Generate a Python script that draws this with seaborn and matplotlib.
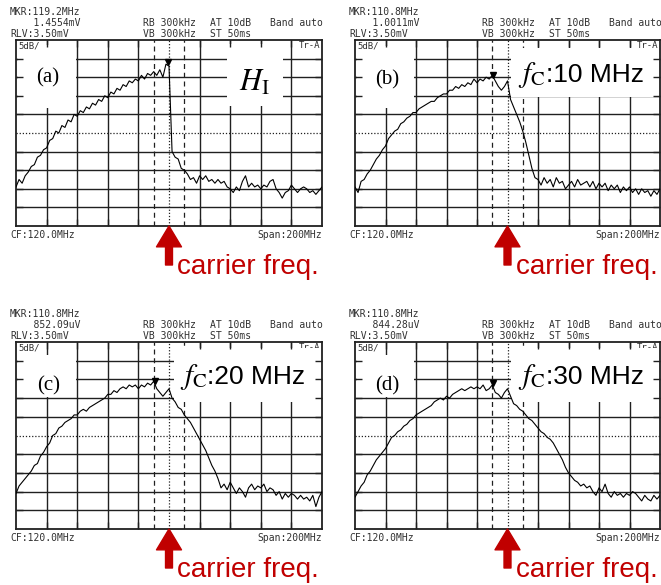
import numpy as np
import pandas as pd
import seaborn as sns
import matplotlib.pyplot as plt
from matplotlib.patches import Rectangle

# 周波数軸 (CF 120 MHz, span 200 MHz)
freq = np.arange(20, 221, 2)

# トレース (dB, 基準レベルからの相対値, 5dB/div)
trace_a = [-39.5, -37.5, -38.5, -36.5, -35.5, -34, -33.5, -31.5, -31, -29.5,
           -29, -27, -26.5, -24.5, -25, -23, -23.5, -21.5, -22, -20,
           -20.5, -19, -19.5, -18, -18.5, -17, -17.5, -16, -16.5, -15,
           -15.5, -14, -14.5, -13, -13.5, -12, -12.5, -11, -11.5, -10.5,
           -11, -9.5, -10.5, -9, -9.5, -8.5, -9.5, -8, -10, -6.5,
           -7, -30, -31.5, -32, -34.5, -35, -36, -37.5, -37, -38.5,
           -36.5, -37.5, -36.5, -38, -37.5, -38.5, -37.5, -38.5, -38, -39.5,
           -40, -41, -39.5, -40.5, -38, -36.5, -39.5, -38.5, -39.5, -39,
           -40, -39, -39.5, -38, -37.5, -40, -41, -42.5, -41, -40.5,
           -39, -40, -41, -40, -39.5, -40, -41, -40.5, -41.5, -40.5,
           -39.5]
trace_b = [-39.5, -41, -38, -37.5, -36, -35, -33.5, -32, -31, -29.5,
           -28.5, -26.5, -25.5, -24.5, -24, -22.5, -22, -21, -20.5, -19.5,
           -19.5, -18.5, -18, -17.5, -17, -16.5, -16.5, -15.5, -15, -14.5,
           -14.5, -13.5, -13.5, -12.5, -13, -12, -12.5, -11.5, -12, -10.5,
           -11.5, -10.5, -11, -10, -10.5, -9.5, -11, -12.5, -13.5, -12.5,
           -11, -16, -18, -20, -22, -24.5, -27.5, -31, -34.5, -37,
           -37.5, -39, -37, -38.5, -37.5, -39.5, -37, -38.5, -38, -40,
           -39, -38, -39.5, -37.5, -39, -38.5, -38, -39.5, -38, -40,
           -38.5, -39.5, -38.5, -40.5, -39, -40, -39, -41, -39.5, -40.5,
           -39.5, -41, -40, -41.5, -40, -41, -40.5, -42, -40.5, -41.5,
           -40]
trace_c = [-40.5, -38.5, -37.5, -36.5, -35.5, -34.5, -33, -32.5, -30.5, -29.5,
           -28, -27, -25, -24.5, -23, -22.5, -21.5, -21, -20.5, -19.5,
           -19.5, -18.5, -18, -18.5, -17.5, -17, -16.5, -16, -15.5, -15,
           -14, -14, -13, -13.5, -12.5, -12, -12.5, -11.5, -12, -11.5,
           -12.5, -11.5, -12, -11, -11.5, -10.5, -12.5, -13.5, -14.5, -13.5,
           -12.5, -15, -16, -17.5, -18, -19.5, -20.5, -21.5, -23, -24.5,
           -26, -27.5, -29, -31, -33, -34.5, -36.5, -39, -38, -39.5,
           -37.5, -39, -40.5, -39, -40, -41.5, -39, -38, -39.5, -38.5,
           -39, -38, -40, -39, -39.5, -41, -40, -42, -40.5, -41.5,
           -40.5, -41, -42, -41, -42, -41.5, -42.5, -41, -44, -41.5,
           -40]
trace_d = [-41.5, -40, -38.5, -37.5, -35.5, -34.5, -33, -31.5, -30.5, -29.5,
           -28.5, -27, -25.5, -25, -24, -23.5, -22.5, -22, -21, -20.5,
           -19.5, -19, -18.5, -18, -17.5, -17, -16, -15.5, -15, -15.5,
           -14.5, -15, -14, -13.5, -13, -12.5, -13, -12.5, -12, -12.5,
           -12, -12.5, -11.5, -13, -12.5, -11.5, -13.5, -14, -15, -13.5,
           -12.5, -14.5, -16.5, -17, -18, -18.5, -19.5, -20.5, -21, -22,
           -23, -24, -24.5, -25.5, -26, -27, -28.5, -30, -31.5, -33.5,
           -35, -36, -37, -37.5, -38.5, -38, -39, -38.5, -40, -41,
           -39, -40, -38, -40.5, -41.5, -40, -41, -40.5, -41.5, -40.5,
           -41, -40, -40.5, -41.5, -42.5, -41, -42, -42.5, -41, -42,
           -41]
traces = [trace_a, trace_b, trace_c, trace_d]

panel_labels = ["(a)", "(b)", "(c)", "(d)"]
fc_labels = ["", ":10 MHz", ":20 MHz", ":30 MHz"]

# マーカー
mkr_freq = [119.2, 110.8, 110.8, 110.8]
mkr_db = [-5.8, -9.3, -10.3, -10.9]
mkr_text = ["119.2MHz", "110.8MHz", "110.8MHz", "110.8MHz"]
mkr_value = ["1.4554mV", "1.0011mV", "852.09uV", "844.28uV"]

red = "#c00000"
grid_col = "#202020"
mono = "DejaVu Sans Mono"

sns.set_style("white")
plt.rcParams["mathtext.fontset"] = "stix"
plt.rcParams["font.family"] = ["Liberation Sans", "DejaVu Sans"]
plt.rcParams["text.color"] = "black"

fig = plt.figure(figsize=(6.61, 5.85), dpi=100)

# パネルの位置 (figure fraction)
positions = [[16/661, 1-226/585, 306/661, 186/585],
             [355/661, 1-226/585, 305/661, 186/585],
             [16/661, 1-529/585, 306/661, 187/585],
             [355/661, 1-529/585, 305/661, 187/585]]

# 白抜きのラベル枠 (f0, f1, db_top, db_bottom)
label_box = [(21, 59, -1.3, -18.3), (21, 59, -1.5, -18.3),
             (21, 59, -3.5, -14.8), (21, 59, -3.5, -14.8)]
label_y = [-10.2, -10.8, -11.6, -11.6]
right_box = [(158, 194.5, -1.1, -17.7), (122.6, 221, -2.2, -15.3),
             (123.3, 221, -1.6, -16.1), (122.6, 221, -1.6, -16.0)]

for i in range(4):
    ax = fig.add_axes(positions[i])
    df = pd.DataFrame({"freq": freq, "level": traces[i]})
    sns.lineplot(data=df, x="freq", y="level", ax=ax, color="black",
                 lw=0.8, zorder=3)
    ax.plot([mkr_freq[i]], [mkr_db[i]], marker="v", ms=4, color="black",
            zorder=4)

    ax.set_xlim(20, 220)
    ax.set_ylim(-50, 0)
    ax.set_xlabel("")
    ax.set_ylabel("")

    # グリッド (中央は点線、±10MHz は破線)
    for xv in [40, 60, 80, 100, 140, 160, 180, 200]:
        ax.axvline(xv, color=grid_col, lw=1.0, zorder=1)
    for yv in [-5, -10, -15, -20, -30, -35, -40, -45]:
        ax.axhline(yv, color=grid_col, lw=1.0, zorder=1)
    ax.axhline(-25, color=grid_col, lw=0.9, ls=(0, (1, 1.5)), zorder=1)
    ax.axvline(120, color=grid_col, lw=0.9, ls=(0, (1, 1.5)), zorder=1)
    ax.axvline(110, color=grid_col, lw=0.9, ls=(0, (4, 3)), zorder=1)
    ax.axvline(130, color=grid_col, lw=0.9, ls=(0, (4, 3)), zorder=1)

    ax.set_xticks([40, 60, 80, 100, 140, 160, 180, 200])
    ax.set_yticks([-5, -10, -15, -20, -30, -35, -40, -45])
    ax.set_xticklabels([])
    ax.set_yticklabels([])
    ax.tick_params(direction="in", length=5, width=1.0, color=grid_col,
                   top=True, right=True, bottom=True, left=True)
    ax.set_axisbelow(False)
    for s in ax.spines.values():
        s.set_color(grid_col)
        s.set_linewidth(1.3)

    # ラベル枠
    f0, f1, t, b = label_box[i]
    ax.add_patch(Rectangle((f0, b), f1 - f0, t - b, facecolor="white",
                           edgecolor="none", zorder=2))
    f0, f1, t, b = right_box[i]
    ax.add_patch(Rectangle((f0, b), f1 - f0, t - b, facecolor="white",
                           edgecolor="none", zorder=2, clip_on=True))

    ax.text(41, label_y[i], panel_labels[i], ha="center", va="center",
            fontsize=15, family="Liberation Serif", color="black", zorder=5)

    if i == 0:
        ax.text(176, -11.6, r"$H_{\mathrm{I}}$", ha="center", va="center",
                fontsize=22, color="black", zorder=5)
    else:
        ax.text(145, -11.2, r"$f_{\mathrm{C}}$", ha="right", va="baseline",
                fontsize=21, color="black", zorder=5)
        ax.text(145, -11.2, fc_labels[i], ha="left", va="baseline",
                fontsize=19, family="Liberation Sans", color="black",
                zorder=5)

    # 画面上部の設定表示
    hdr = [("MKR:" + mkr_text[i], -6, 28), ("    " + mkr_value[i], -6, 17),
           ("RLV:3.50mV", -6, 6), ("RB 300kHz", 127, 17),
           ("VB 300kHz", 127, 6), ("AT 10dB", 194, 17), ("ST 50ms", 194, 6),
           ("Band auto", 254, 17)]
    for txt, dx, dy in hdr:
        ax.annotate(txt, xy=(0, 1), xycoords="axes fraction",
                    xytext=(dx, dy), textcoords="offset pixels",
                    ha="left", va="center", fontsize=7, family=mono,
                    color="#303030", annotation_clip=False)
    ax.annotate("5dB/", xy=(0, 1), xycoords="axes fraction", xytext=(2, -6),
                textcoords="offset pixels", ha="left", va="center",
                fontsize=6.5, family=mono, color="#303030", zorder=5)
    ax.annotate("Tr-A", xy=(1, 1), xycoords="axes fraction", xytext=(-2, -6),
                textcoords="offset pixels", ha="right", va="center",
                fontsize=6.5, family=mono, color="#303030", zorder=1.5)
    ax.annotate("CF:120.0MHz", xy=(0, 0), xycoords="axes fraction",
                xytext=(-6, -9), textcoords="offset pixels", ha="left",
                va="center", fontsize=7, family=mono, color="#303030",
                annotation_clip=False)
    ax.annotate("Span:200MHz", xy=(1, 0), xycoords="axes fraction",
                xytext=(0, -9), textcoords="offset pixels", ha="right",
                va="center", fontsize=7, family=mono, color="#303030",
                annotation_clip=False)

    # キャリア周波数の矢印
    ax.annotate("", xy=(120, -50), xycoords="data", xytext=(0, -39),
                textcoords="offset pixels",
                arrowprops=dict(arrowstyle="simple,head_length=1.5,head_width=1.8,tail_width=0.5",
                                mutation_scale=10, color=red, shrinkA=0,
                                shrinkB=0),
                annotation_clip=False)
    ax.annotate("carrier freq.", xy=(120, -50), xycoords="data",
                xytext=(8, -48), textcoords="offset pixels", ha="left",
                va="baseline", fontsize=20, color=red,
                family="Liberation Sans", annotation_clip=False)

plt.savefig("out.png", dpi=100)
plt.close()
